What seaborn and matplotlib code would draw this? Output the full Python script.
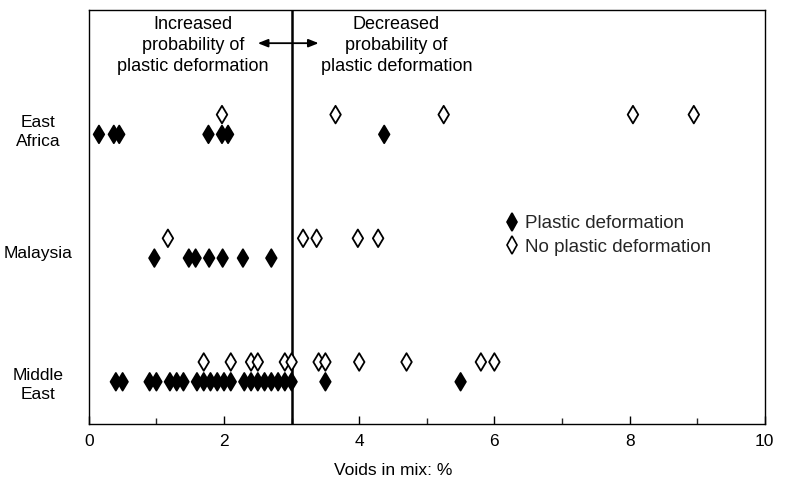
import numpy as np
import pandas as pd
import matplotlib
matplotlib.use("Agg")
import matplotlib.pyplot as plt
import matplotlib.transforms as mtransforms
from matplotlib.lines import Line2D
import seaborn as sns

save_path = "out.png"

REGIONS = ["East Africa", "Malaysia", "Middle East"]
REGION_LABELS = ["East\nAfrica", "Malaysia", "Middle\nEast"]

# voids in mix (%)
ea_plastic = [0.15, 0.37, 0.45, 1.77, 1.97, 2.06, 4.37]
ea_none = [1.97, 3.65, 5.25, 8.05, 8.95]
my_plastic = [0.97, 1.48, 1.58, 1.78, 1.98, 2.28, 2.70]
my_none = [1.17, 3.17, 3.37, 3.98, 4.28]
me_plastic = [0.4, 0.5, 0.9, 1.0, 1.2, 1.3, 1.4, 1.6, 1.7, 1.8, 1.9, 2.0, 2.1,
              2.3, 2.4, 2.5, 2.6, 2.7, 2.8, 2.9, 3.0, 3.5, 5.5]
me_none = [1.7, 2.1, 2.4, 2.5, 2.9, 3.0, 3.4, 3.5, 4.0, 4.7, 5.8, 6.0]

PLASTIC = "Plastic deformation"
NONE = "No plastic deformation"
THRESHOLD = 3

rows = []
for region, plastic, none in zip(REGIONS, [ea_plastic, my_plastic, me_plastic],
                                 [ea_none, my_none, me_none]):
    rows += [(region, v, PLASTIC) for v in plastic]
    rows += [(region, v, NONE) for v in none]
df = pd.DataFrame(rows, columns=["region", "voids", "deformation"])

# sub-row layout inside each region band
region_pos = {r: i for i, r in enumerate(REGIONS)}
row_offset = {PLASTIC: 0.08, NONE: -0.08}
df["ypos"] = df["region"].map(region_pos) + df["deformation"].map(row_offset)

sns.set_theme(style="ticks")
plt.rcParams['font.family'] = ['Liberation Sans', 'DejaVu Sans']

fig = plt.figure(figsize=(7.86, 4.8), dpi=100)
ax = fig.add_axes([0.113, 0.117, 0.86, 0.862])

sns.scatterplot(
    data=df, x="voids", y="ypos", hue="deformation",
    hue_order=[PLASTIC, NONE],
    palette={PLASTIC: "black", NONE: "white"},
    marker="d", s=80, edgecolor="black", linewidth=1.3,
    legend=False, ax=ax, zorder=3,
)

ax.axvline(THRESHOLD, color="black", lw=1.8, zorder=2)

ax.set_xlim(0, 10)
ax.set_ylim(2.42, -0.925)
ax.set_xticks(range(0, 11, 2))
ax.set_xticks(range(1, 10, 2), minor=True)
ax.tick_params(axis="x", which="major", direction="in", length=6, width=1,
               labelsize=12.5, pad=7, colors="black")
ax.tick_params(axis="x", which="minor", direction="in", length=4, width=1)

# label anchors sit slightly below each band centre, as in the original
label_shift = [0.03, 0.03, 0.08]
ax.set_yticks([i + d for i, d in enumerate(label_shift)])
ax.set_yticklabels(REGION_LABELS)
ax.tick_params(axis="y", length=0, labelsize=12.5, pad=36.5, colors="black")
for t in ax.get_yticklabels():
    t.set_horizontalalignment("center")
    t.set_linespacing(1.35)

for s in ax.spines.values():
    s.set_color("black")
    s.set_linewidth(1.0)

ax.set_xlabel("Voids in mix: %", fontsize=12.5, labelpad=10, color="black")
ax.xaxis.set_label_coords(0.451, -0.095)
ax.set_ylabel("")

trans = mtransforms.blended_transform_factory(ax.transData, ax.transAxes)
ax.text(1.54, 0.985, "Increased\nprobability of\nplastic deformation",
        transform=trans, ha="center", va="top", fontsize=13,
        linespacing=1.3, color="black")
ax.text(4.55, 0.985, "Decreased\nprobability of\nplastic deformation",
        transform=trans, ha="center", va="top", fontsize=13,
        linespacing=1.3, color="black")
ax.annotate("", xy=(2.5, 0.92), xytext=(3.4, 0.92), xycoords=trans,
            textcoords=trans,
            arrowprops=dict(arrowstyle="<|-|>,head_length=0.5,head_width=0.2",
                            color="black", lw=1.3, shrinkA=0, shrinkB=0))

handles = [
    Line2D([], [], marker="d", ls="", markersize=9, markerfacecolor="black",
           markeredgecolor="black", markeredgewidth=1.2, label=PLASTIC),
    Line2D([], [], marker="d", ls="", markersize=9, markerfacecolor="white",
           markeredgecolor="black", markeredgewidth=1.2, label=NONE),
]
ax.legend(handles=handles, loc="upper left", bbox_to_anchor=(0.59, 0.545),
          frameon=False, fontsize=13.5, handlelength=0.8, handletextpad=0.3,
          labelspacing=0.35)

plt.savefig(save_path, dpi=100)
plt.close()
